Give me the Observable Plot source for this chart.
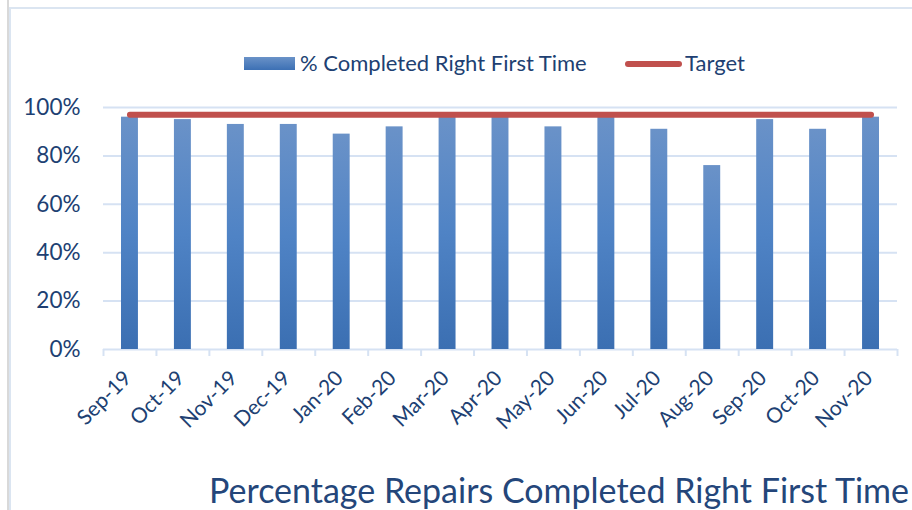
<!DOCTYPE html>
<html>
<head>
<meta charset="utf-8">
<script src="https://cdn.jsdelivr.net/npm/d3@7"></script>
<script src="https://cdn.jsdelivr.net/npm/@observablehq/plot@0.6"></script>
<style>
  html, body { margin: 0; padding: 0; background: #fff; }
  #wrap { position: relative; width: 912px; height: 510px; overflow: hidden; font-family: Lato, "Open Sans", sans-serif; color: #203f72; }
  #chart { position: absolute; left: 0; top: 0; }
  .border-gray { position: absolute; left: 7px; top: 0; width: 2px; height: 510px; background: #d9d9d9; }
  .border-vblue { position: absolute; left: 9px; top: 8px; width: 2px; height: 502px; background: #dbe5f1; }
  .border-hblue { position: absolute; left: 9px; top: 7px; width: 903px; height: 2px; background: #dbe5f1; }
  .legend { position: absolute; top: 49px; left: 0; height: 28px; font-size: 22px; }
  .legend .sw-bar { position: absolute; left: 244px; top: 8px; width: 51px; height: 13px; background: linear-gradient(#6a92c8, #3c70b4); }
  .legend .t1 { position: absolute; left: 300px; top: 0px; white-space: nowrap; line-height: 28px; }
  .legend .sw-line { position: absolute; left: 625px; top: 12px; width: 57px; height: 6px; border-radius: 3px; background: #c0504d; }
  .legend .t2 { position: absolute; left: 685px; top: 0px; white-space: nowrap; line-height: 28px; }
  .title { position: absolute; left: 209px; top: 469px; font-size: 34px; white-space: nowrap; line-height: 42px; color: #24467a; }
</style>
</head>
<body>
<div id="wrap">
  <div id="chart"></div>
  <div class="border-gray"></div>
  <div class="border-vblue"></div>
  <div class="border-hblue"></div>
  <div class="legend">
    <div class="sw-bar"></div><div class="t1">% Completed Right First Time</div>
    <div class="sw-line"></div><div class="t2">Target</div>
  </div>
  <div class="title">Percentage Repairs Completed Right First Time</div>
</div>
<script>
const months = ["Sep-19","Oct-19","Nov-19","Dec-19","Jan-20","Feb-20","Mar-20","Apr-20","May-20","Jun-20","Jul-20","Aug-20","Sep-20","Oct-20","Nov-20"];
const rightFirstTime = [0.96,0.95,0.93,0.93,0.89,0.92,0.96,0.96,0.92,0.96,0.91,0.76,0.95,0.91,0.96];
const target = [0.97,0.97,0.97,0.97,0.97,0.97,0.97,0.97,0.97,0.97,0.97,0.97,0.97,0.97,0.97];
const yTicks = [0,0.2,0.4,0.6,0.8,1];

const data = months.map((m, i) => ({month: m, value: rightFirstTime[i], target: target[i]}));

const W = 912, H = 440, mL = 103, mR = 15, mT = 107, mB = 91;
const step = (W - mL - mR) / months.length;
const gridColor = "#d6e2f3";
const textColor = "#203f72";

const chart = Plot.plot({
  width: W, height: H,
  marginTop: mT, marginBottom: mB, marginLeft: mL, marginRight: mR,
  style: {fontFamily: "Lato, 'Open Sans', sans-serif", color: textColor, background: "transparent", overflow: "visible"},
  x: {domain: months, paddingInner: 0.68, paddingOuter: 0.34, round: false, label: null},
  y: {domain: [0, 1], label: null},
  marks: [
    Plot.ruleY(yTicks, {stroke: gridColor, strokeWidth: 2}),
    Plot.ruleX(months, {x: d => d, y1: 0, y2: 0, insetBottom: -7, dx: -step / 2, stroke: gridColor, strokeWidth: 2}),
    Plot.ruleX(months.slice(-1), {x: d => d, y1: 0, y2: 0, insetBottom: -7, dx: step / 2, stroke: gridColor, strokeWidth: 2}),
    Plot.barY(data, {x: "month", y: "value", fill: "url(#barGrad)"}),
    Plot.lineY(data, {x: "month", y: "target", stroke: "#c0504d", strokeWidth: 6, strokeLinecap: "round"}),
    Plot.axisY({ticks: yTicks, tickSize: 0, tickPadding: 23, tickFormat: d3.format(".0%"), fontSize: 22.5, fill: textColor}),
    Plot.axisX({tickSize: 0, tickRotate: -45, tickPadding: 25, dx: -2, fontSize: 21, fill: textColor})
  ]
});

const svg = d3.select(chart);
const defs = svg.insert("defs", ":first-child");
const grad = defs.append("linearGradient").attr("id", "barGrad").attr("x1", 0).attr("y1", 0).attr("x2", 0).attr("y2", 1);
grad.append("stop").attr("offset", "0%").attr("stop-color", "#6a92c8");
grad.append("stop").attr("offset", "50%").attr("stop-color", "#4f83c5");
grad.append("stop").attr("offset", "100%").attr("stop-color", "#3b6fb2");

document.getElementById("chart").appendChild(chart);
</script>
</body>
</html>
